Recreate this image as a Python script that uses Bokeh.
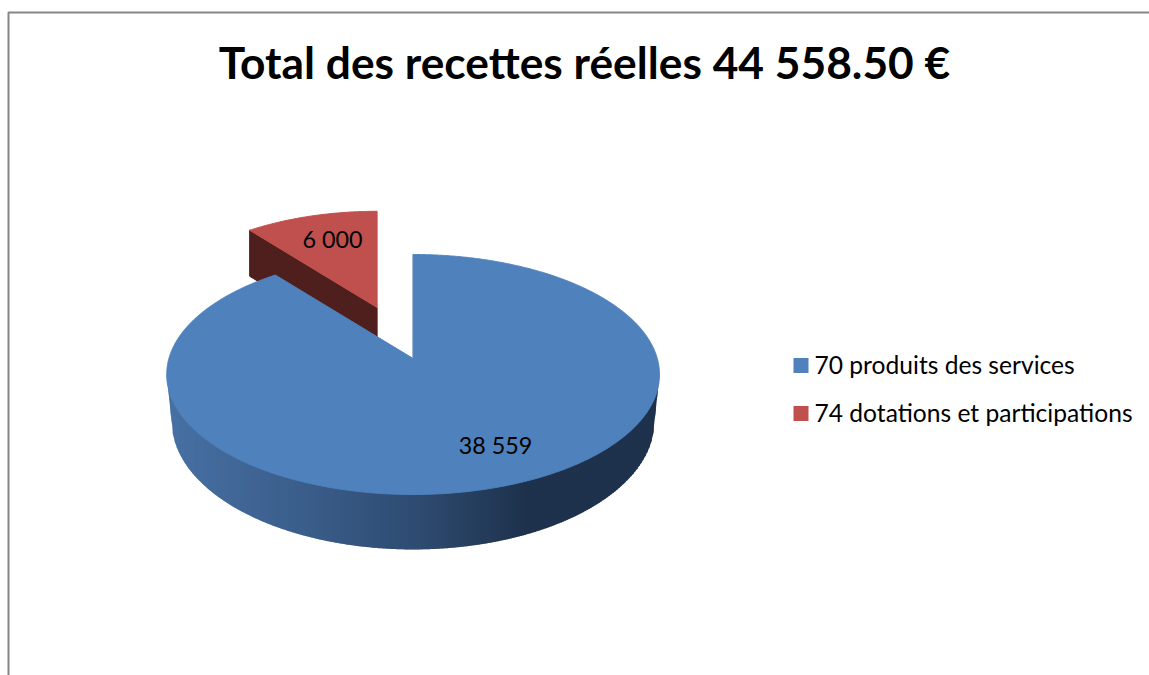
import numpy as np
from bokeh.plotting import figure
from bokeh.models import Range1d
from bokeh.core.properties import value
from bokeh.embed import file_html
from bokeh.resources import INLINE

# --- data ---
title = "Total des recettes réelles 44 558.50 €"
categories = ["70 produits des services", "74 dotations et participations"]
values = [38559, 6000]
labels = ["38 559", "6 000"]
total = 44558.5

# --- styles / view ---
FONT = "Lato"
colors = ["#4f81bd", "#c0504d"]
red_wall = "#4f1f1d"
stops_x = [170, 300, 420, 525, 660]
stops_c = [(0x47, 0x70, 0xa3), (0x3b, 0x5e, 0x8b), (0x2e, 0x4b, 0x70), (0x1e, 0x32, 0x4d), (0x1e, 0x32, 0x4d)]
ax, ay = 412.6, 358.0        # blue apex on screen
top_view = (244.2, 117.87, 0.1333, 0.0)
bot_view = (239.5, 126.4, 0.128, 46.0)
view_k = 0.795               # squeeze of the wedge seen in perspective
ex_dx, ex_dy, ex_s = -36.0, -51.0, 0.925  # explosion of the second slice


def proj(theta, view, apex=(ax, ay), s=1.0):
    e, a, c, dz = view
    X, Y = np.sin(theta), np.cos(theta)
    d = 1 + c * Y
    return apex[0] + s * e * X / d, apex[1] + dz - s * a * Y / d


sweep = 2 * np.pi * values[1] / sum(values) * view_k
b0, b1 = 0.0, 2 * np.pi - sweep

W, H = 1149, 675
p = figure(width=W, height=H, output_backend="svg", toolbar_location=None,
           x_range=Range1d(0, W), y_range=Range1d(H, 0),
           min_border=0, min_border_left=0, min_border_right=0,
           min_border_top=0, min_border_bottom=0, outline_line_color=None,
           background_fill_color="white")
p.axis.visible = False
p.grid.visible = False

# frame
p.line([8, 8, W], [H, 12, 12], line_color="#868686", line_width=2)

# exploded slice
rapex = (ax + ex_dx, ay + ex_dy)
tr = np.linspace(b1, 2 * np.pi, 60)
rx, ry = proj(tr, top_view, rapex, ex_s)
lx, ly = proj(np.array([b1]), top_view, rapex, ex_s)
p.patch([lx[0], rapex[0], rapex[0], lx[0]],
        [ly[0], rapex[1], rapex[1] + 46, ly[0] + 46],
        fill_color=red_wall, line_color=red_wall)
p.patch(np.r_[rapex[0], rx], np.r_[rapex[1], ry], fill_color=colors[1], line_color=colors[1])

# main slice: side wall as vertical gradient columns (each overlaps the next to hide seams)
ts = np.linspace(b0, b1, 1000)
tx, ty = proj(ts, top_view)
bx, by = proj(ts, bot_view)
ir, il = int(np.argmax(tx)), int(np.argmin(tx))
jr, jl = int(np.argmax(bx)), int(np.argmin(bx))
top_xs, top_ys = tx[ir:il + 1][::-1], ty[ir:il + 1][::-1]
env_xs = np.r_[tx[il], bx[jr:jl + 1][::-1], tx[ir]]
env_ys = np.r_[ty[il], by[jr:jl + 1][::-1], ty[ir]]
cols = np.arange(tx[il], tx[ir] + 2, 2.0)
xs, ys, cs = [], [], []
for x0, x1 in zip(cols[:-1], cols[1:]):
    x1 = min(x1 + 1.0, tx[ir])
    t0, t1 = np.interp([x0, x1], top_xs, top_ys)
    e0, e1 = np.interp([x0, x1], env_xs, env_ys)
    xs.append([x0, x1, x1, x0])
    ys.append([t0 - 1, t1 - 1, e1, e0])
    rgb = [int(round(np.interp((x0 + x1) / 2, stops_x, [c[k] for c in stops_c]))) for k in range(3)]
    cs.append("#%02x%02x%02x" % tuple(rgb))
p.patches(xs, ys, fill_color=cs, line_color=None)

# main slice: top face
p.patch(np.r_[ax, tx], np.r_[ay, ty], fill_color=colors[0], line_color=colors[0])
p.line([tx[0], ax], [ty[0], ay], line_color="#5f7fa8", line_width=1, line_alpha=0.7)

# labels
p.text([495, 332], [444, 238], text=labels, text_font=value(FONT), text_font_size="23.3px",
       text_color="black", text_align="center", text_baseline="middle")

# title
p.text([584], [61], text=[title], text_font=value(FONT), text_font_style="bold",
       text_font_size="44.3px", text_color="black", text_align="center", text_baseline="middle")

# legend
ly_pos = [365, 413]
p.quad(left=[793, 793], right=[808, 808], top=[y - 7.5 for y in ly_pos], bottom=[y + 7.5 for y in ly_pos],
       fill_color=colors, line_color=None)
p.text([814, 814], [y - 1 for y in ly_pos], text=categories, text_font=value(FONT), text_font_size="24.6px",
       text_color="black", text_align="left", text_baseline="middle")

open("out.html", "w").write(file_html(p, INLINE))
